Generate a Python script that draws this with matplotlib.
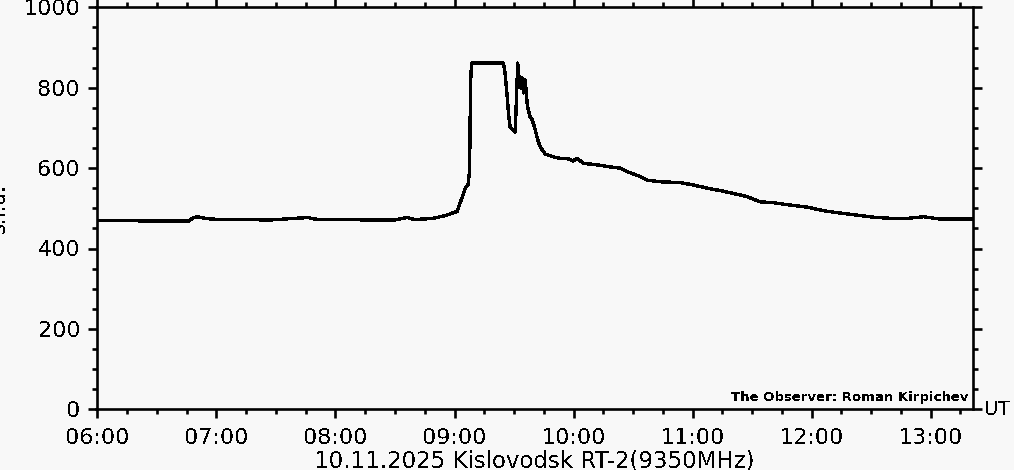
import pandas as pd
import matplotlib.pyplot as plt
import matplotlib.dates as mdates
from matplotlib.ticker import MultipleLocator

# RT-2 9350 MHz record, 10.11.2025 (UT, s.f.u.)
times = [
    "06:00:00", "06:16:18", "06:23:54", "06:36:30", "06:46:06", "06:48:06", "06:50:36",
    "06:54:06", "06:58:12", "07:11:48", "07:26:54", "07:46:06", "07:49:42", "08:02:18",
    "08:17:24", "08:30:00", "08:36:06", "08:40:06", "08:49:12", "08:52:42", "08:56:12",
    "08:58:48", "09:01:18", "09:02:48", "09:03:54", "09:05:24", "09:06:54", "09:07:36",
    "09:08:06", "09:08:36", "09:24:42", "09:25:30", "09:26:24", "09:27:18", "09:28:00",
    "09:29:36", "09:30:36", "09:31:12", "09:31:54", "09:32:18", "09:32:48", "09:33:36",
    "09:34:06", "09:34:48", "09:35:36", "09:36:48", "09:38:06", "09:39:12", "09:40:42",
    "09:41:42", "09:43:12", "09:45:42", "09:49:48", "09:53:18", "09:56:48", "09:59:48",
    "10:01:54", "10:04:54", "10:12:00", "10:17:00", "10:23:36", "10:27:06", "10:33:42",
    "10:37:12", "10:43:48", "10:53:54", "11:00:24", "11:07:30", "11:14:00", "11:20:36",
    "11:27:36", "11:34:12", "11:40:42", "11:49:18", "11:57:54", "12:06:00", "12:14:36",
    "12:23:12", "12:31:12", "12:39:48", "12:48:24", "12:56:30", "13:05:06", "13:13:42",
    "13:21:12",
]
flux = [
    469, 470, 468, 468, 468, 476, 479,
    475, 473, 472, 471, 477, 473, 472,
    471, 471, 477, 472, 475, 479, 483,
    488, 492, 513, 528, 550, 560, 595,
    812, 861, 861, 837, 787, 732, 703,
    695, 690, 769, 861, 807, 829, 799,
    824, 787, 819, 753, 727, 720, 695,
    675, 653, 635, 628, 624, 624, 618,
    624, 612, 608, 604, 600, 591, 579,
    570, 566, 564, 558, 550, 544, 537,
    529, 516, 514, 508, 503, 494, 488,
    483, 478, 475, 475, 479, 473, 473,
    473,
]

day = "2025-11-10"
t = pd.to_datetime([f"{day} {s}" for s in times])

bg = "#f8f8f8"
plt.rcParams["text.antialiased"] = False

fig = plt.figure(figsize=(10.14, 4.70), dpi=100, facecolor=bg)
ax = fig.add_axes([96.5 / 1014, 1 - 409.3 / 470, 876 / 1014, 402 / 470])
ax.set_facecolor(bg)

ax.plot(t, flux, color="black", lw=1.7, antialiased=False)

ax.set_xlim(pd.Timestamp(f"{day} 05:59:30"), pd.Timestamp(f"{day} 13:21:10"))
ax.set_ylim(0, 1000)

ax.xaxis.set_major_locator(mdates.HourLocator())
ax.xaxis.set_minor_locator(mdates.MinuteLocator(byminute=[15, 30, 45]))
ax.xaxis.set_major_formatter(mdates.DateFormatter("%H:%M"))
ax.yaxis.set_major_locator(MultipleLocator(200))
ax.yaxis.set_minor_locator(MultipleLocator(50))

for s in ax.spines.values():
    s.set_linewidth(1.9)
ax.tick_params(which="both", direction="out", top=True, right=True,
               width=1.9, labelsize=16)
ax.tick_params(which="major", length=6.5)
ax.tick_params(which="minor", length=3.5)
ax.tick_params(axis="x", pad=7)
ax.tick_params(axis="y", pad=5)

ax.set_xlabel("10.11.2025 Kislovodsk RT-2(9350MHz)", fontsize=16.5, labelpad=1)
fig.text(9 / 1014, 1 - 208 / 470, "s.f.u.", rotation=90, ha="right", va="center",
         fontsize=15)
fig.text(984 / 1014, 1 - 415 / 470, "UT", ha="left", va="baseline", fontsize=14)
ax.text(0.9954, 0.0206, "The Observer: Roman Kirpichev", transform=ax.transAxes,
        ha="right", va="baseline", fontsize=9.5, fontweight="bold")

fig.savefig("out.png", dpi=100, facecolor=bg)
